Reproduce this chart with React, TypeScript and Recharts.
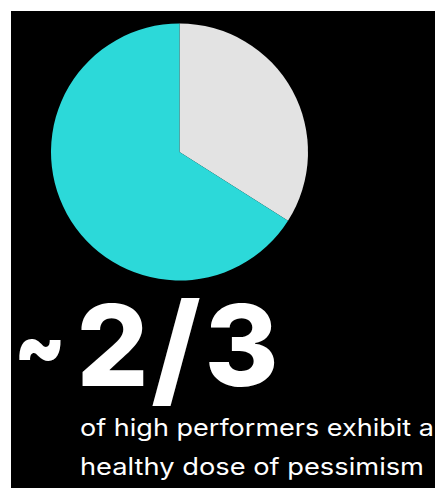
import React from "react";
import { PieChart, Pie, Cell } from "recharts";

const categories = ["Pessimism", "Other"];
const values = [34, 66];
const colors = ["#E3E3E3", "#2CD9D9"];
const headlineGlyphs = ["~", "2", "/", "3"];
const subtitleLines = ["of high performers exhibit a", "healthy dose of pessimism"];

const data = categories.map((name, i) => ({ name, value: values[i] }));

const glyphLayout = [
  { x: 29, y: 365, size: 88, weight: 900, sx: 0.85 },
  { x: 101.5, y: 375, size: 113, weight: 800, sx: 1 },
  { x: 165, y: 381, size: 124, weight: 800, sx: 1 },
  { x: 230.5, y: 375, size: 113, weight: 800, sx: 1 },
];
const subtitleWidths = [354, 344];

export default function App() {
  return (
    <div
      style={{
        position: "relative",
        width: 432,
        height: 477,
        marginLeft: 3,
        marginTop: 3,
        background: "#000",
      }}
    >
      <PieChart width={432} height={477} margin={{ top: 0, right: 0, bottom: 0, left: 0 }}>
        <Pie
          data={data}
          dataKey="value"
          nameKey="name"
          cx={168.5}
          cy={141}
          outerRadius={128.5}
          innerRadius={0}
          startAngle={90}
          endAngle={-270}
          stroke="none"
          isAnimationActive={false}
        >
          {data.map((d, i) => (
            <Cell key={d.name} fill={colors[i]} />
          ))}
        </Pie>
      </PieChart>
      <svg
        width={432}
        height={477}
        style={{ position: "absolute", left: 0, top: 0, pointerEvents: "none" }}
      >
        {headlineGlyphs.map((g, i) => {
          const l = glyphLayout[i];
          return (
            <text
              key={i}
              x={0}
              y={0}
              transform={`translate(${l.x},${l.y}) scale(${l.sx},1)`}
              textAnchor="middle"
              fill="#fff"
              fontFamily="Inter, Roboto, sans-serif"
              fontWeight={l.weight}
              fontSize={l.size}
            >
              {g}
            </text>
          );
        })}
        {subtitleLines.map((line, i) => (
          <text
            key={line}
            x={69}
            y={425 + i * 39}
            fill="#fff"
            fontFamily="Inter, Roboto, sans-serif"
            fontWeight={400}
            fontSize={24}
            textLength={subtitleWidths[i]}
            lengthAdjust="spacingAndGlyphs"
          >
            {line}
          </text>
        ))}
      </svg>
    </div>
  );
}
